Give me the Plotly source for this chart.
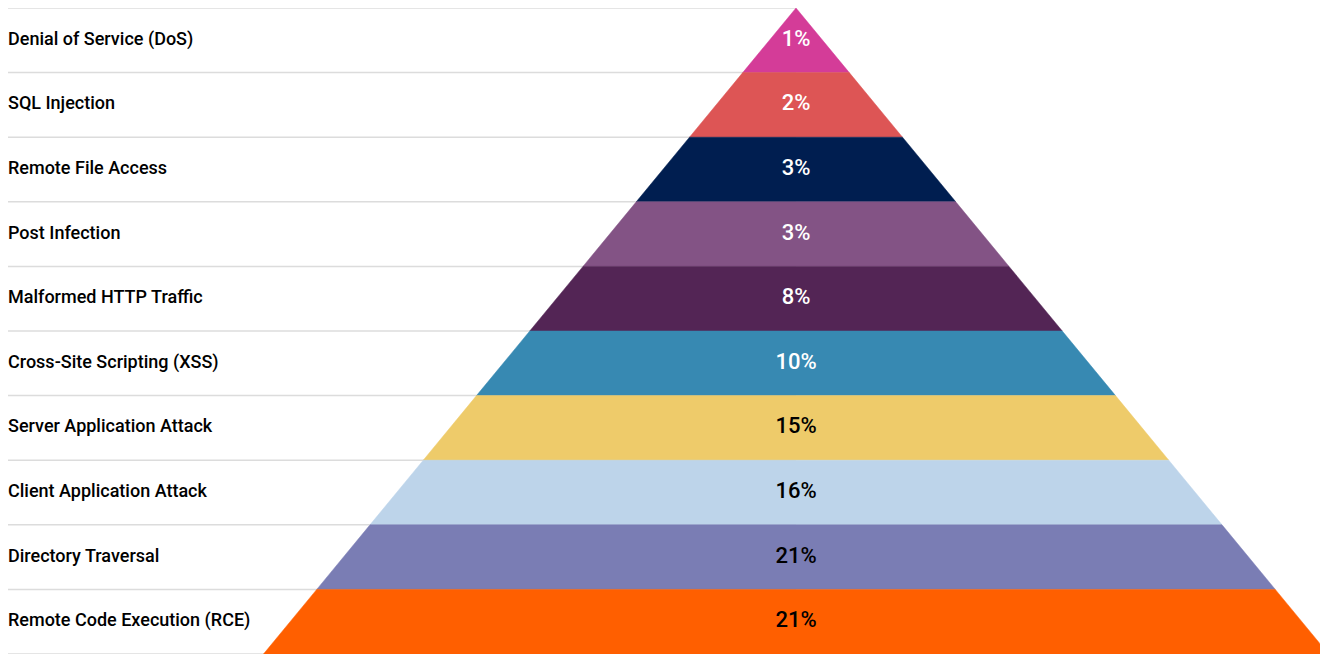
import plotly.graph_objects as go

categories = [
    "Denial of Service (DoS)",
    "SQL Injection",
    "Remote File Access",
    "Post Infection",
    "Malformed HTTP Traffic",
    "Cross-Site Scripting (XSS)",
    "Server Application Attack",
    "Client Application Attack",
    "Directory Traversal",
    "Remote Code Execution (RCE)",
]
values = [1, 2, 3, 3, 8, 10, 15, 16, 21, 21]
colors = ["#d43c98", "#dd5555", "#001e50", "#835385", "#532555",
          "#3789b2", "#eecb6a", "#bdd4ea", "#7a7db4", "#ff5f00"]
text_colors = ["white"] * 6 + ["black"] * 4

W, H = 1328, 654
n = len(categories)
apex_px = 788.0
half_base_px = 532.5
x_left = -apex_px / half_base_px
x_right = (W - apex_px) / half_base_px

fig = go.Figure()

# grid lines at row boundaries (behind pyramid)
for k in range(n + 1):
    fig.add_trace(go.Scatter(
        x=[x_left, 0], y=[k, k], mode="lines",
        line=dict(color="#dcdcdc", width=1.5), hoverinfo="skip",
        showlegend=False, cliponaxis=False))

# trapezoid layers: row i from top
for i, (cat, v, c) in enumerate(zip(categories, values, colors)):
    y_top = n - i
    y_bot = n - i - 1
    w_top = i / n
    w_bot = (i + 1) / n
    fig.add_trace(go.Scatter(
        x=[-w_top, w_top, w_bot, -w_bot, -w_top],
        y=[y_top, y_top, y_bot, y_bot, y_top],
        mode="lines", fill="toself", fillcolor=c,
        line=dict(color=c, width=0.5), name=cat,
        hoverinfo="name", showlegend=False, cliponaxis=False))

# percent labels
fig.add_trace(go.Scatter(
    x=[0] * n, y=[n - i - 0.5 for i in range(n)], mode="text",
    text=[f"{v}%" for v in values],
    textfont=dict(family="Roboto", size=22, color=text_colors, weight=500),
    hoverinfo="skip", showlegend=False))

# category labels
fig.add_trace(go.Scatter(
    x=[x_left] * n, y=[n - i - 0.5 for i in range(n)],
    mode="text", text=categories, textposition="middle right",
    textfont=dict(family="Roboto", size=18, color="black", weight=500),
    hoverinfo="skip", showlegend=False, cliponaxis=False))

fig.update_layout(
    width=W, height=H,
    margin=dict(l=0, r=0, t=0, b=8),
    paper_bgcolor="white", plot_bgcolor="white",
    xaxis=dict(range=[x_left, x_right], visible=False, fixedrange=True),
    yaxis=dict(range=[0, n], visible=False, fixedrange=True),
)

fig.write_html("out.html")
